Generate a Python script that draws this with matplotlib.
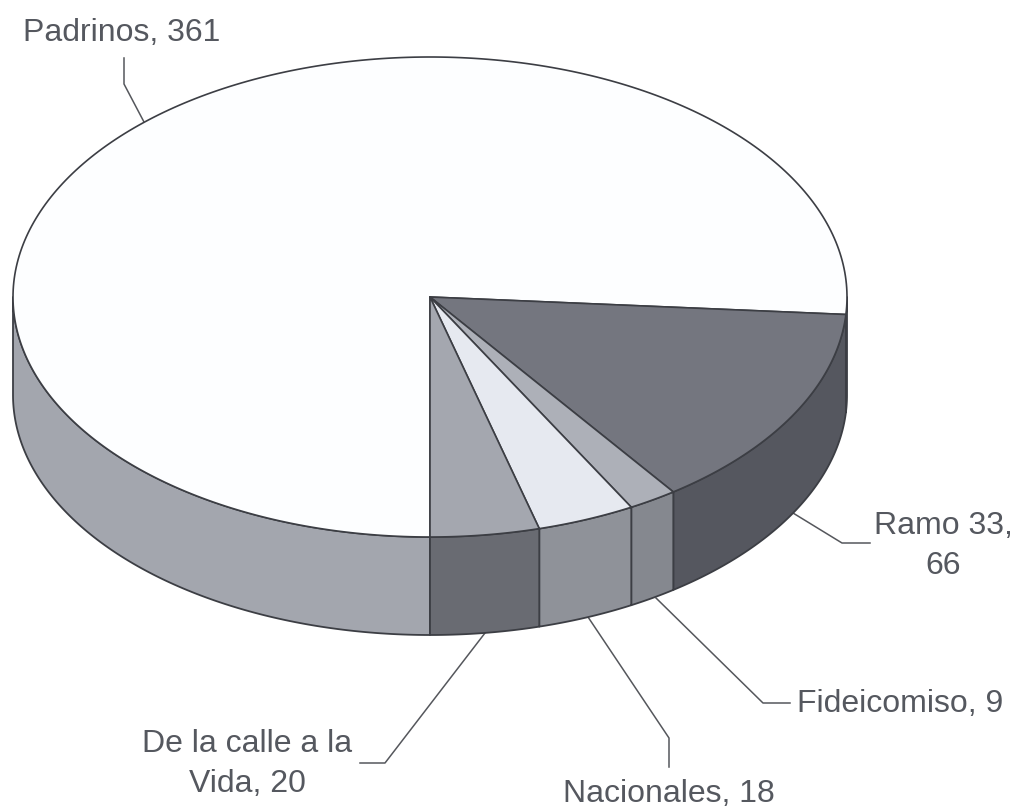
import numpy as np
import matplotlib
matplotlib.use('Agg')
import matplotlib.pyplot as plt

# datos de la torta
categorias = ['Padrinos', 'Ramo 33', 'Fideicomiso', 'Nacionales', 'De la calle a la Vida']
valores = [361, 66, 9, 18, 20]
colores_tapa = ['#fdfeff', '#74767f', '#adb0b8', '#e6e9f0', '#a4a7af']
colores_lado = ['#a3a6ae', '#55575f', '#85888f', '#8f9299', '#696b72']

# geometria en pixeles
cx, cy, rx, ry, prof = 430, 297, 417, 240, 98
borde = '#3c3e44'
gris_txt = '#55585f'

plt.rcParams['font.family'] = ['Liberation Sans', 'DejaVu Sans']

fig = plt.figure(figsize=(10.14, 8.07), dpi=100)
ax = fig.add_axes([0, 0, 1, 1])
ax.set_xlim(0, 1014)
ax.set_ylim(807, 0)
ax.axis('off')


def elipse(t):
    # t en grados, sentido horario desde abajo
    t = np.radians(t)
    return cx - rx * np.sin(t), cy + ry * np.cos(t)


angulos = np.cumsum([0] + valores) / sum(valores) * 360

# lados (solo la mitad de adelante)
for i in range(len(valores)):
    for lim0, lim1 in [(0, 90), (270, 360)]:
        a0, a1 = max(angulos[i], lim0), min(angulos[i + 1], lim1)
        if a1 <= a0:
            continue
        t = np.linspace(a0, a1, 120)
        x, y = elipse(t)
        px = np.concatenate([x, x[::-1]])
        py = np.concatenate([y, y[::-1] + prof])
        ax.fill(px, py, facecolor=colores_lado[i], edgecolor=borde, lw=1.3, joinstyle='round', zorder=2)

# tapa
for i in range(len(valores)):
    t = np.linspace(angulos[i], angulos[i + 1], 300)
    x, y = elipse(t)
    px = np.concatenate([[cx], x])
    py = np.concatenate([[cy], y])
    ax.fill(px, py, facecolor=colores_tapa[i], edgecolor=borde, lw=1.2, joinstyle='round', zorder=3)

# lineas guia
guias = [
    ([124, 124, 144], [58, 84, 122]),
    ([793, 842, 870], [513, 543, 543]),
    ([656, 763, 790], [598, 703, 703]),
    ([588, 669, 669], [617, 738, 767]),
    ([485, 385, 360], [633, 763, 763]),
]
for gx, gy in guias:
    ax.plot(gx, gy, color='#55575c', lw=1.1, zorder=1, solid_joinstyle='round')

# etiquetas
fs = 23
ax.text(122, 33, 'Padrinos, 361', ha='center', va='center', fontsize=fs, color=gris_txt)
ax.text(943, 546, 'Ramo 33,\n66', ha='center', va='center', fontsize=fs, color=gris_txt, linespacing=1.42)
ax.text(900, 704, 'Fideicomiso, 9', ha='center', va='center', fontsize=fs, color=gris_txt)
ax.text(669, 794, 'Nacionales, 18', ha='center', va='center', fontsize=fs, color=gris_txt)
ax.text(247, 764, 'De la calle a la\nVida, 20', ha='center', va='center', fontsize=fs, color=gris_txt, linespacing=1.45)

fig.savefig('out.png', dpi=100)
